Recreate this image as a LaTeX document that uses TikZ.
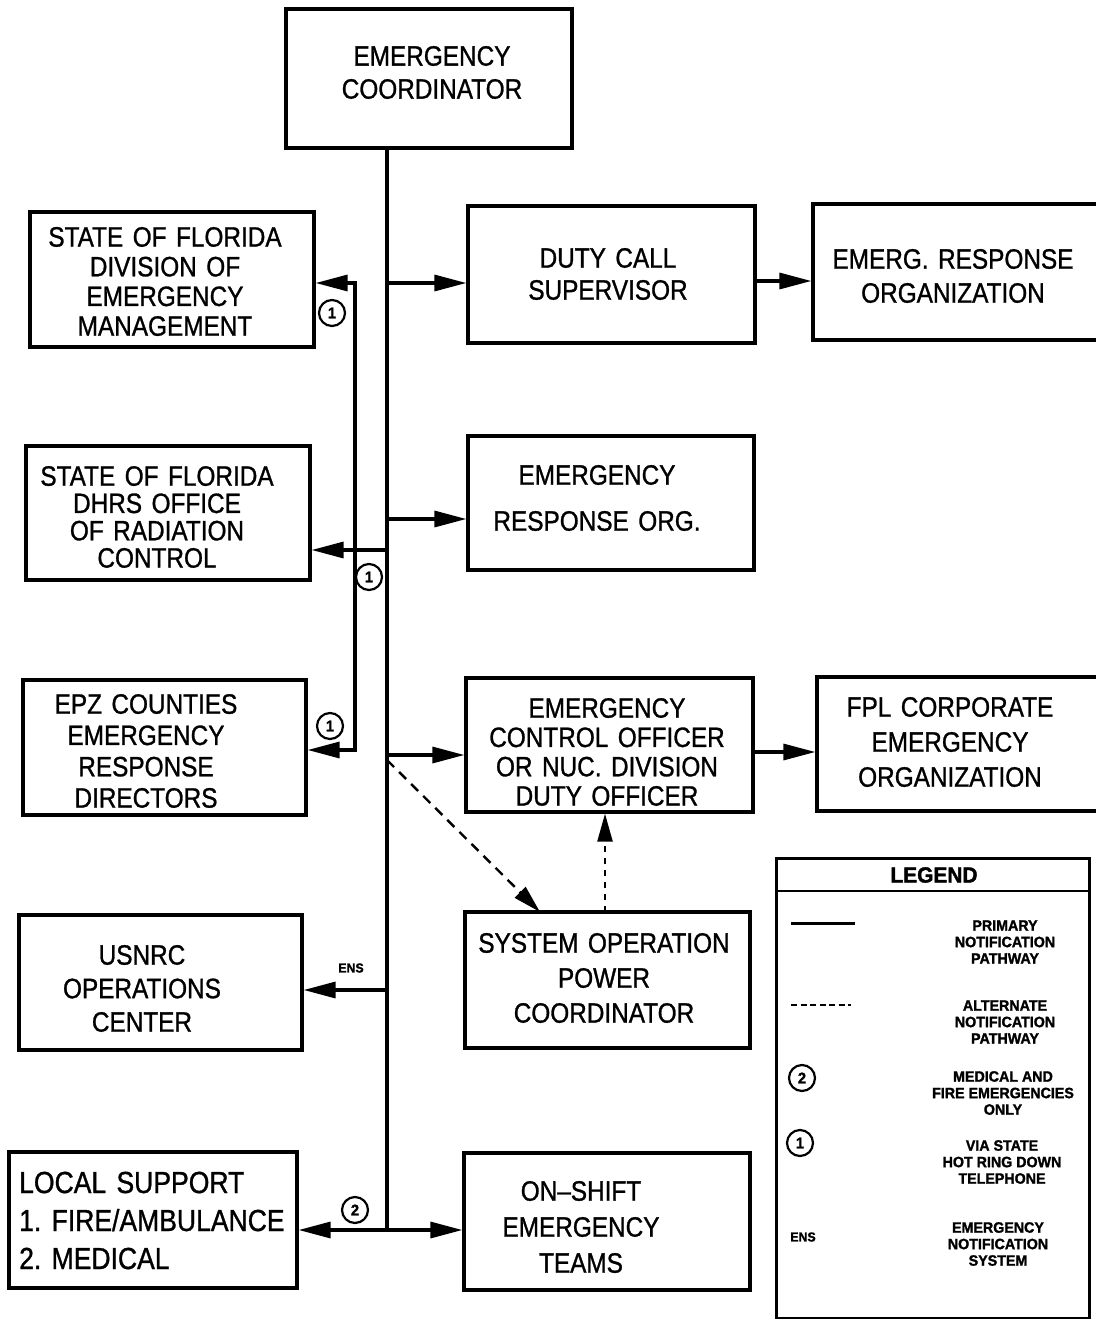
\documentclass[tikz,border=0pt]{standalone}
\usepackage{fontspec}
\setmainfont{Liberation Sans}[FakeStretch=0.87, WordSpace=1.4, FakeBold=1]
\newfontfamily\legendfont{Liberation Sans}[FakeStretch=0.95, FakeBold=1.5]
\usetikzlibrary{arrows.meta}
% box caption font: 28pt with a chosen baseline skip
\newcommand\bxf[1]{\fontsize{28}{#1}\selectfont}

\begin{document}
\begin{tikzpicture}[x=1pt,y=-1pt,
  box/.style={draw, line width=3.2pt, inner sep=0pt},
  txt/.style={align=center, inner sep=0pt},
  wire/.style={line width=3.2pt, line join=miter},
  arr/.style={wire, -{Triangle[length=32pt,width=16pt]}},
  alt/.style={line width=2.4pt, dash pattern=on 10pt off 7pt, -{Triangle[length=28pt,width=15pt]}},
  altv/.style={line width=2.4pt, dash pattern=on 6pt off 6pt, -{Triangle[length=28pt,width=15pt]}},
  num/.style={circle, draw, line width=2.2pt, minimum size=26pt, inner sep=0pt,
    font=\legendfont\bfseries\fontsize{15.5}{15.5}\selectfont},
  legtxt/.style={align=center, inner sep=0pt,
    font=\legendfont\bfseries\fontsize{15}{16.5}\selectfont},
]
\useasboundingbox (0,0) rectangle (1095,1319);

% ---------- boxes ----------
\node[box, minimum width=286, minimum height=139] (ec)    at (429,78.5)  {};
\node[box, minimum width=284, minimum height=135] (dfl)   at (172,279.5) {};
\node[box, minimum width=287, minimum height=137] (duty)  at (611.5,274.5) {};
\node[box, minimum width=287, minimum height=136] (ero)   at (956.5,272) {};
\node[box, minimum width=284, minimum height=134] (dhrs)  at (168,513)   {};
\node[box, minimum width=286, minimum height=134] (ero2)  at (611,503)   {};
\node[box, minimum width=283, minimum height=135] (epz)   at (164.5,747.5) {};
\node[box, minimum width=287, minimum height=134] (eco)   at (609.5,745) {};
\node[box, minimum width=283, minimum height=134] (fpl)   at (958.5,744) {};
\node[box, minimum width=283, minimum height=135] (nrc)   at (160.5,982.5) {};
\node[box, minimum width=285, minimum height=136] (sys)   at (607.5,980) {};
\node[box, minimum width=288, minimum height=136] (loc)   at (153,1220)  {};
\node[box, minimum width=286, minimum height=137] (shift) at (607,1221.5) {};

% ---------- captions ----------
\node[txt, font=\bxf{33}]   (ecT)    at (432,72.5)  {EMERGENCY\\COORDINATOR};
\node[txt, font=\bxf{29.7}] (dflT)   at (165,281.5) {STATE OF FLORIDA\\DIVISION OF\\EMERGENCY\\MANAGEMENT};
\node[txt, font=\bxf{32}]   (dutyT)  at (608,274)   {DUTY CALL\\SUPERVISOR};
\node[txt, font=\bxf{34}]   (eroT)   at (953,276)   {EMERG. RESPONSE\\ORGANIZATION};
\node[txt, font=\bxf{27.3}] (dhrsT)  at (157,517)   {STATE OF FLORIDA\\DHRS OFFICE\\OF RADIATION\\CONTROL};
\node[txt, font=\bxf{46}]   (ero2T)  at (597,498)   {EMERGENCY\\RESPONSE ORG.};
\node[txt, font=\bxf{31.3}] (epzT)   at (146,751)   {EPZ COUNTIES\\EMERGENCY\\RESPONSE\\DIRECTORS};
\node[txt, font=\bxf{29.3}] (ecoT)   at (607,752)   {EMERGENCY\\CONTROL OFFICER\\OR NUC. DIVISION\\DUTY OFFICER};
\node[txt, font=\bxf{35}]   (fplT)   at (950,742)   {FPL CORPORATE\\EMERGENCY\\ORGANIZATION};
\node[txt, font=\bxf{33.5}] (nrcT)   at (142,988.5) {USNRC\\OPERATIONS\\CENTER};
\node[txt, font=\bxf{35}]   (sysT)   at (604,978)   {SYSTEM OPERATION\\POWER\\COORDINATOR};
\node[txt, font=\fontsize{30.5}{38}\selectfont, align=left, anchor=west] (locT) at (19,1220.5)
  {LOCAL SUPPORT\\1.\ FIRE/AMBULANCE\\2.\ MEDICAL};
\node[txt, font=\bxf{36}]   (shiftT) at (581,1227)  {ON--SHIFT\\EMERGENCY\\TEAMS};

% ---------- trunk and taps ----------
\coordinate (t0)    at (387,148);
\coordinate (t283)  at (387,283);
\coordinate (t519)  at (387,519);
\coordinate (t550)  at (387,550);
\coordinate (t755)  at (387,755);
\coordinate (t760)  at (387,760);
\coordinate (t990)  at (387,990);
\coordinate (tbot)  at (387,1230);
\draw[wire] (t0) -- (tbot);

\draw[arr] (t283) -- (t283 -| duty.west);
\draw[arr] (t519) -- (t519 -| ero2.west);
\draw[arr] (t755) -- (t755 -| eco.west);
\draw[arr] (tbot) -- (tbot -| shift.west);
\draw[arr] (tbot) -- (tbot -| loc.east);
\draw[arr] (t990) -- (t990 -| nrc.east);
\draw[arr] (t550) -- (t550 -| dhrs.east);

% hot ring down branch to the state and county offices
\coordinate (s283) at (355,283);
\coordinate (s550) at (355,550);
\coordinate (s750) at (355,750);
\draw[arr] (s550) -- (s283) -- (s283 -| dfl.east);
\draw[arr] (s550) -- (s750) -- (s750 -| epz.east);

% onward links
\coordinate (d281) at (755,281);
\draw[arr] (d281) -- (d281 -| ero.west);
\coordinate (e752) at (753,752);
\draw[arr] (e752) -- (e752 -| fpl.west);

% alternate pathways
\coordinate (sysTop) at (540,912);
\draw[alt] (t760) -- (sysTop);
\coordinate (sysUp) at (605,912);
\draw[altv] (sysUp) -- (sysUp |- eco.south);

% ---------- pathway markers ----------
\node[num] (m1a) at (332,313) {1};
\node[num] (m1b) at (369,577) {1};
\node[num] (m1c) at (330,726) {1};
\node[num] (m2)  at (355,1210) {2};
\node[font=\legendfont\bfseries\fontsize{13}{13}\selectfont, inner sep=0pt] (ens) at (351,968) {ENS};

% ---------- legend ----------
\node[box, line width=2.8pt, minimum width=313, minimum height=460, anchor=north west] (legend) at (775,857) {};
\coordinate (lh) at (775,891);
\draw[line width=2.8pt] (lh) -- (lh -| legend.east);
\node[inner sep=0pt, font=\legendfont\bfseries\fontsize{22}{22}\selectfont] (legT) at (934,875) {LEGEND};

\coordinate (lp1) at (791,923);
\coordinate (lp2) at (855,923);
\draw[line width=3pt] (lp1) -- (lp2);
\node[legtxt] (legP) at (1005,942) {PRIMARY\\NOTIFICATION\\PATHWAY};

\coordinate (la1) at (791,1005);
\coordinate (la2) at (851,1005);
\draw[line width=2.8pt, dash pattern=on 6pt off 3.5pt] (la1) -- (la2);
\node[legtxt] (legA) at (1005,1022) {ALTERNATE\\NOTIFICATION\\PATHWAY};

\node[num] (lm2) at (802,1078) {2};
\node[legtxt] (legM) at (1003,1093) {MEDICAL AND\\FIRE EMERGENCIES\\ONLY};

\node[num] (lm1) at (800,1143) {1};
\node[legtxt] (legV) at (1002,1162) {VIA STATE\\HOT RING DOWN\\TELEPHONE};

\node[font=\legendfont\bfseries\fontsize{13}{13}\selectfont, inner sep=0pt] (lens) at (803,1237) {ENS};
\node[legtxt] (legE) at (998,1244) {EMERGENCY\\NOTIFICATION\\SYSTEM};
\end{tikzpicture}
\end{document}
